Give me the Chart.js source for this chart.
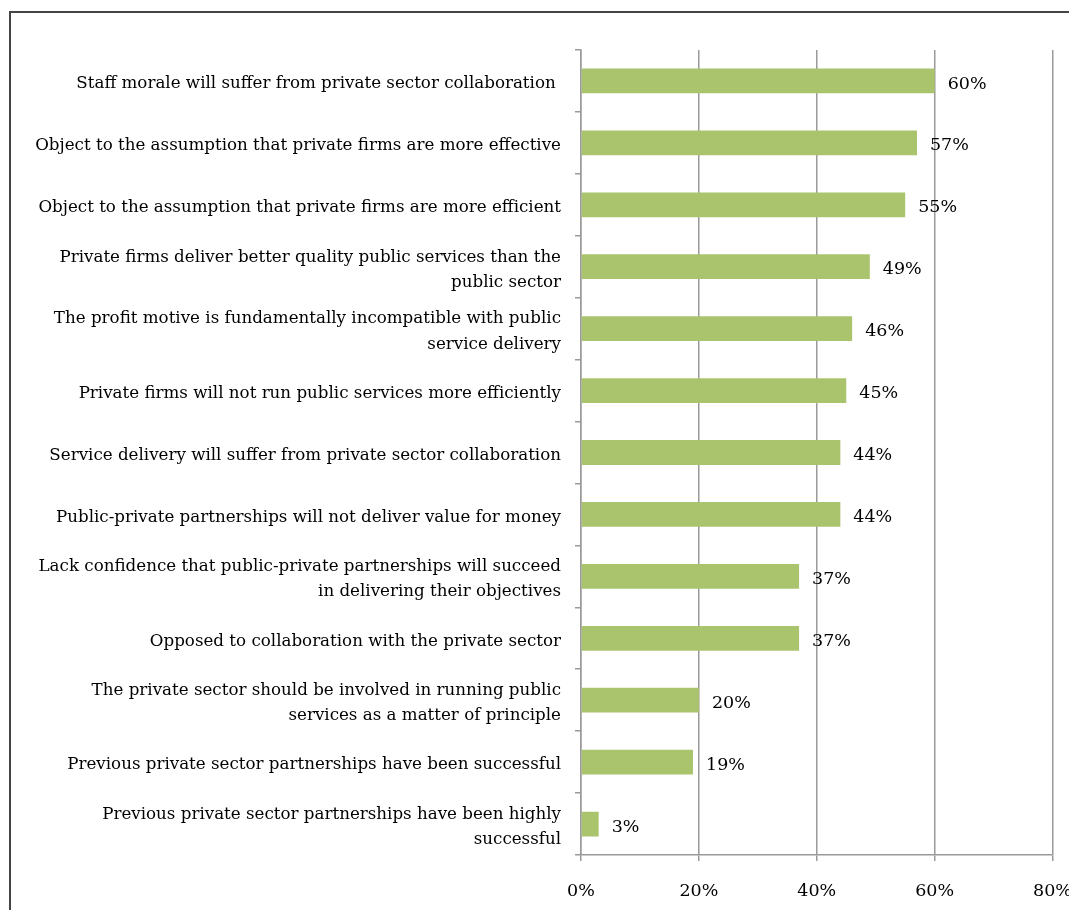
<!DOCTYPE html>
<html>
<head>
<meta charset="utf-8">
<script src="https://cdn.jsdelivr.net/npm/chart.js@4"></script>
<style>
  html, body { margin: 0; padding: 0; background: #fff; overflow: hidden; width: 1069px; height: 910px; }
  #frame { position: absolute; left: 9px; top: 11px; width: 1200px; height: 1000px; border-left: 2px solid #444; border-top: 2px solid #444; }
  #wrap { position: absolute; left: 0; top: 0; width: 1092px; height: 910px; }
</style>
</head>
<body>
<div id="frame"></div>
<div id="wrap"><canvas id="c"></canvas></div>
<script>
const categories = [
  "Staff morale will suffer from private sector collaboration ",
  "Object to the assumption that private firms are more effective",
  "Object to the assumption that private firms are more efficient",
  ["Private firms deliver better quality public services than the", "public sector"],
  ["The profit motive is fundamentally incompatible with public", "service delivery"],
  "Private firms will not run public services more efficiently",
  "Service delivery will suffer from private sector collaboration",
  "Public-private partnerships will not deliver value for money",
  ["Lack confidence that public-private partnerships will succeed", "in delivering their objectives"],
  "Opposed to collaboration with the private sector",
  ["The private sector should be involved in running public", "services as a matter of principle"],
  "Previous private sector partnerships have been successful",
  ["Previous private sector partnerships have been highly", "successful"]
];
const values = [60, 57, 55, 49, 46, 45, 44, 44, 37, 37, 20, 19, 3];
const xTicks = [0, 20, 40, 60, 80];

const FONT = "'DejaVu Serif', 'Liberation Serif', serif";
const FSIZE = 16.7;

const valueLabels = {
  id: 'valueLabels',
  afterDatasetsDraw(chart) {
    const ctx = chart.ctx;
    const meta = chart.getDatasetMeta(0);
    ctx.save();
    ctx.font = "17.5px " + FONT;
    ctx.fillStyle = "#000";
    ctx.textAlign = "left";
    ctx.textBaseline = "middle";
    meta.data.forEach((bar, i) => {
      ctx.fillText(values[i] + "%", bar.x + 13, bar.y + 3);
    });
    ctx.restore();
  }
};

new Chart(document.getElementById('c'), {
  type: 'bar',
  data: {
    labels: categories,
    datasets: [{
      data: values,
      backgroundColor: '#AAC46E',
      borderWidth: 0,
      barPercentage: 0.4,
      categoryPercentage: 1.0
    }]
  },
  options: {
    indexAxis: 'y',
    responsive: true,
    maintainAspectRatio: false,
    animation: false,
    layout: { padding: { top: 50, right: 36, bottom: 0, left: 0 } },
    plugins: { legend: { display: false }, tooltip: { enabled: false } },
    scales: {
      x: {
        min: 0, max: 80,
        afterBuildTicks(scale) { scale.ticks = xTicks.map(v => ({ value: v })); },
        afterFit(scale) { scale.height = 910 - 855; },
        grid: { color: '#9a9a9a', lineWidth: 1.5, tickLength: 6, drawOnChartArea: true },
        border: { color: '#9a9a9a', width: 1.5 },
        ticks: {
          color: '#000', font: { family: FONT, size: 17.5 }, padding: 20,
          callback: v => v + '%', maxRotation: 0
        }
      },
      y: {
        afterFit(scale) { scale.width = 581; },
        grid: { color: '#9a9a9a', lineWidth: 1.5, tickLength: 6, drawOnChartArea: false, offset: true },
        border: { color: '#9a9a9a', width: 1.5 },
        ticks: {
          color: '#000', font: { family: FONT, size: FSIZE, lineHeight: 1.5 }, padding: 14,
          labelOffset: 3, autoSkip: false
        }
      }
    }
  },
  plugins: [valueLabels]
});
</script>
</body>
</html>
